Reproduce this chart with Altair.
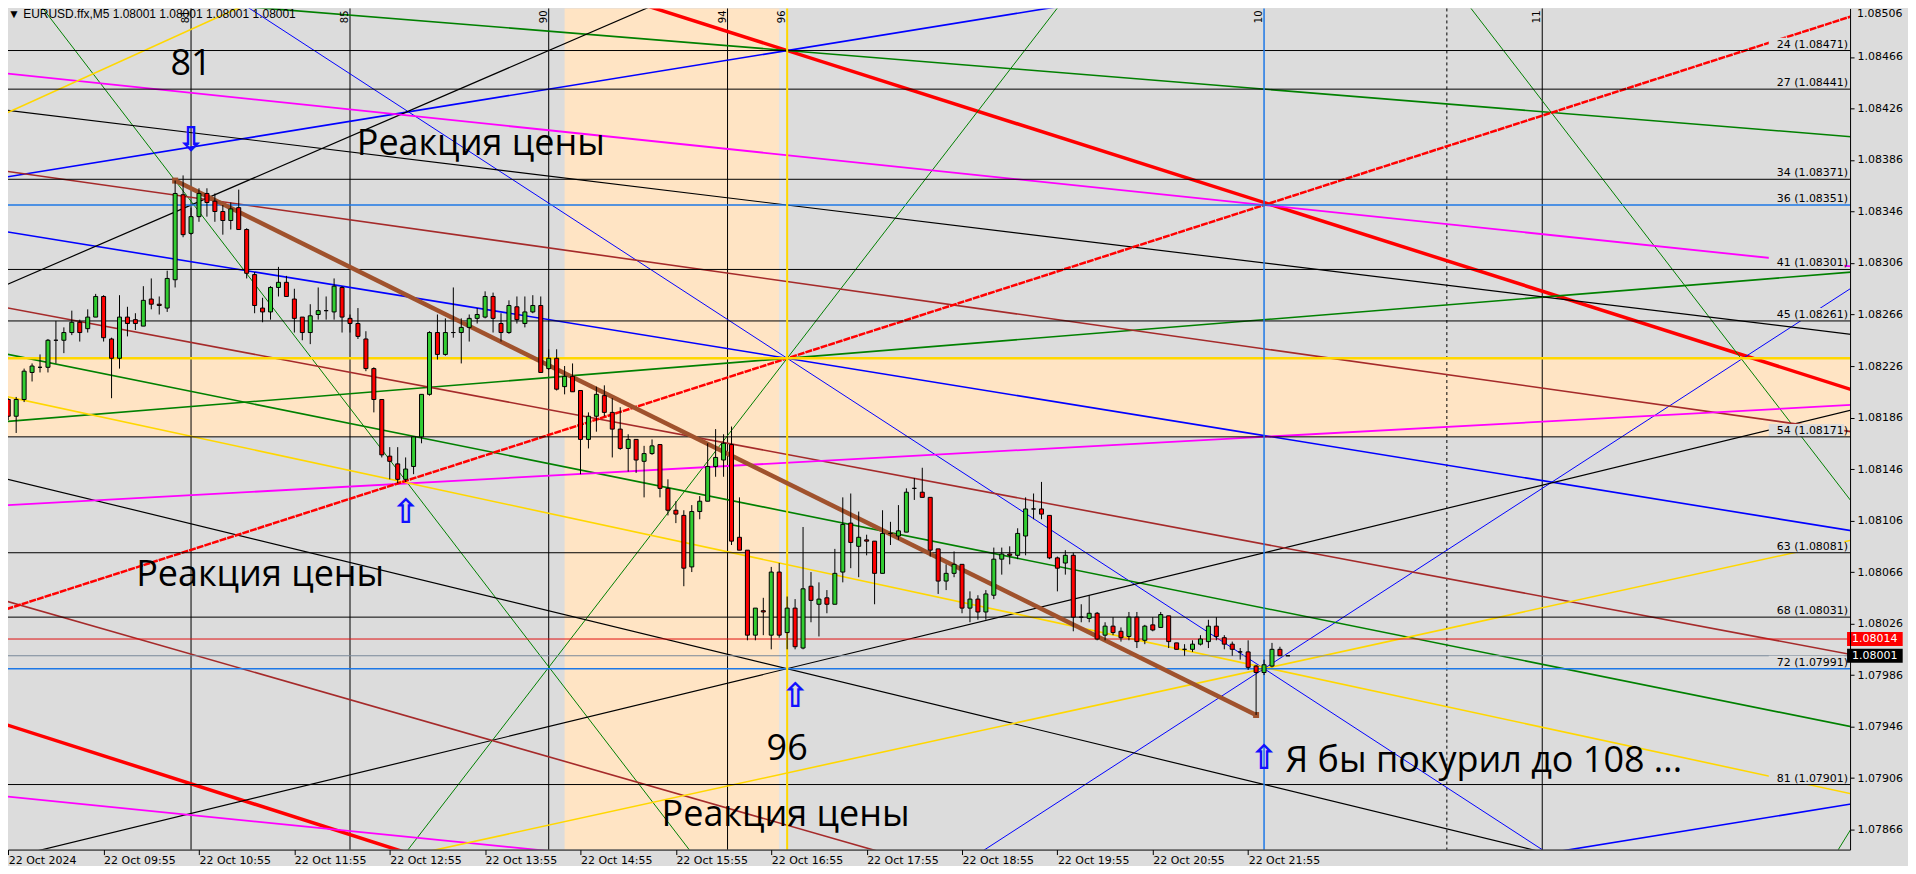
import altair as alt
import pandas as pd

# ---------------- values ----------------
# M5 candles, bar 0 = 22 Oct 08:55; prices in points (1 point = 0.00001)
opens = [108200,108187,108200,108221,108225,108225,108246,108246,108252,108260,
         108255,108264,108280,108247,108232,108264,108262,108257,108278,108274,
         108271,108293,108359,108329,108342,108360,108354,108346,108339,108349,
         108332,108297,108271,108268,108287,108291,108278,108264,108252,108266,
         108269,108268,108287,108263,108259,108247,108224,108200,108156,108150,
         108138,108148,108171,108204,108252,108235,108252,108252,108256,108263,
         108264,108280,108259,108252,108272,108259,108268,108273,108224,108232,
         108210,108218,108207,108169,108187,108203,108190,108177,108162,108169,
         108152,108158,108165,108131,108114,108110,108070,108113,108121,108148,
         108153,108165,108093,108083,108017,108036,108017,108066,108019,108038,
         108007,108055,108041,108046,108041,108066,108104,108086,108091,108090,
         108065,108096,108094,108097,108131,108128,108124,108084,108059,108065,
         108072,108038,108045,108035,108048,108076,108080,108079,108094,108115,
         108115,108110,108077,108073,108079,108031,108030,108034,108017,108024,
         108020,108016,108031,108013,108025,108023,108032,108011,108006,108006,
         108010,108012,108024,108015,108010,108004,108004,107993,107988,107993,
         108006,108001]
highs = [108201,108202,108224,108228,108235,108247,108261,108256,108269,108262,
         108270,108282,108281,108248,108281,108272,108267,108288,108294,108280,
         108300,108370,108374,108349,108364,108364,108360,108351,108353,108363,
         108333,108299,108279,108288,108303,108296,108286,108264,108274,108287,
         108280,108294,108288,108266,108271,108253,108225,108200,108163,108163,
         108155,108171,108204,108253,108266,108263,108287,108263,108266,108271,
         108284,108283,108267,108277,108280,108280,108281,108280,108239,108239,
         108226,108228,108207,108190,108210,108211,108201,108194,108173,108169,
         108164,108169,108165,108138,108121,108114,108118,108125,108166,108177,
         108173,108179,108124,108083,108038,108046,108070,108073,108047,108045,
         108101,108066,108058,108052,108084,108124,108127,108113,108095,108090,
         108114,108105,108118,108131,108139,108147,108124,108084,108072,108082,
         108072,108051,108048,108052,108085,108085,108086,108100,108124,108127,
         108136,108110,108078,108083,108081,108041,108048,108035,108027,108031,
         108023,108035,108035,108025,108031,108035,108032,108011,108010,108013,
         108017,108029,108031,108017,108012,108007,108013,107994,107998,108011,
         108008,108001]
lows = [108184,108174,108198,108214,108221,108221,108228,108236,108250,108245,
        108252,108264,108245,108201,108224,108249,108254,108257,108270,108266,
        108268,108287,108326,108328,108338,108342,108338,108328,108332,108332,
        108294,108267,108260,108262,108280,108280,108252,108246,108243,108262,
        108262,108262,108252,108252,108247,108222,108190,108155,108138,108135,
        108136,108142,108166,108203,108231,108234,108248,108228,108245,108259,
        108263,108252,108245,108251,108259,108256,108267,108221,108223,108207,
        108204,108206,108142,108162,108175,108187,108155,108161,108144,108143,
        108124,108157,108124,108110,108104,108055,108066,108107,108121,108140,
        108140,108087,108083,108013,108013,108017,108006,108015,108006,108006,
        108006,108027,108016,108034,108041,108058,108069,108062,108079,108041,
        108065,108087,108091,108097,108122,108124,108078,108049,108052,108062,
        108034,108027,108029,108029,108045,108064,108072,108076,108079,108107,
        108107,108076,108051,108064,108020,108027,108027,108013,108013,108017,
        108012,108013,108007,108010,108020,108023,108007,108006,108001,108004,
        108009,108007,108013,108006,108001,107998,107990,107955,107986,107992,
        108001,108001]
closes = [108187,108200,108222,108226,108225,108246,108246,108252,108260,108252,
          108264,108280,108248,108232,108264,108259,108259,108277,108274,108273,
          108294,108360,108328,108342,108360,108353,108346,108339,108348,108332,
          108298,108273,108268,108287,108291,108280,108263,108252,108265,108269,
          108269,108288,108264,108259,108249,108224,108200,108157,108152,108138,
          108146,108171,108204,108252,108235,108252,108252,108256,108263,108266,
          108280,108263,108252,108273,108262,108268,108273,108221,108232,108208,
          108218,108206,108169,108187,108204,108190,108177,108162,108169,108153,
          108158,108164,108131,108114,108111,108069,108113,108121,108148,108155,
          108166,108090,108083,108017,108038,108035,108066,108017,108038,108008,
          108053,108044,108045,108041,108065,108103,108089,108093,108090,108065,
          108096,108096,108098,108128,108131,108124,108083,108059,108065,108072,
          108038,108045,108035,108049,108076,108080,108079,108096,108115,108115,
          108111,108077,108069,108079,108031,108031,108034,108014,108024,108019,
          108015,108031,108012,108024,108021,108033,108012,108006,108006,108010,
          108014,108024,108016,108010,108006,108004,107992,107988,107994,108006,
          108001,108001]

time_tick_bars = [0, 12, 24, 36, 48, 60, 72, 84, 96, 108, 120, 132, 144, 156]
time_tick_labels = ["22 Oct 2024", "22 Oct 09:55", "22 Oct 10:55", "22 Oct 11:55",
                    "22 Oct 12:55", "22 Oct 13:55", "22 Oct 14:55", "22 Oct 15:55",
                    "22 Oct 16:55", "22 Oct 17:55", "22 Oct 18:55", "22 Oct 19:55",
                    "22 Oct 20:55", "22 Oct 21:55"]
price_ticks = [1.07866, 1.07906, 1.07946, 1.07986, 1.08026, 1.08066, 1.08106, 1.08146,
               1.08186, 1.08226, 1.08266, 1.08306, 1.08346, 1.08386, 1.08426, 1.08466]
top_price_label = "1.08506"

level_nums = [24, 27, 34, 36, 41, 45, 54, 63, 68, 72, 81]
level_prices = [1.08471, 1.08441, 1.08371, 1.08351, 1.08301, 1.08261, 1.08171,
                1.08081, 1.08031, 1.07991, 1.07901]
level_is_blue = [False, False, False, True, False, False, False, False, False, True, False]

ask_price = 1.08014
bid_price = 1.08001
band_h_prices = [1.08232, 1.08171]      # orange horizontal zone
band_v_bars = [70, 97]                  # orange vertical zone
stripe_v_bars = [97, 98]
yellow_level = 1.08232

vline_bars = [23, 43, 68, 90.5, 193]
vline_labels = ["81", "85", "90", "94", "11"]
yellow_vline_bar = 98
blue_vline_bar = 158
dashed_vline_bar = 181
vlabel_extra_bars = [98, 158]
vlabel_extra_text = ["96", "10"]

# trend lines: anchor points (bar, price)
line_b1 = [98, 98, 0, 98, 158, 98, 98, 200, 21, 98, 218, 230.2, 98, 98, 0,
           98, 23, 98, 98, 0, 0, 0, 0, 0, 30, 0, 0, 158]
line_p1 = [1.08232, 1.08471, 1.07947, 1.08232, 1.07991, 1.08471, 1.08232, 1.07854,
           1.08370, 1.08232, 1.08232, 1.07850, 1.08471, 1.08232, 1.08235,
           1.08351, 1.08351, 1.07991, 1.07991, 1.08377, 1.08271, 1.08043,
           1.08453, 1.08118, 1.07873, 1.08423, 1.08202, 1.07991]
line_b2 = [158, 158, 40, 158, 218, 158, 158, 231, 51, 128, 188, 231, 158, 158, 231,
           158, 83, 158, 158, 222.7, 231, 108.4, 158, 158, 67, 30, 158, 218]
line_p2 = [1.08351, 1.08353, 1.07868, 1.07991, 1.08231, 1.08531, 1.08172, 1.07885,
           1.08129, 1.08472, 1.08472, 1.07858, 1.08441, 1.08262, 1.07947,
           1.08306, 1.08511, 1.08081, 1.07901, 1.08183, 1.08003, 1.07851,
           1.08351, 1.08171, 1.07850, 1.08507, 1.07992, 1.08072]
line_kind = ["reddot", "redthick", "redthick", "blue", "blue", "blue2", "blue2", "blue2",
             "green", "green", "green", "green", "green2", "green2", "green2",
             "black", "black", "black", "black", "brown", "brown", "brown",
             "magenta", "magenta", "magenta", "yellow", "yellow", "yellow"]

trend_bars = [21, 157]
trend_prices = [1.08370, 1.07955]

ann_text = ["81", "96", "Реакция цены", "Реакция цены", "Реакция цены",
            "Я бы покурил до 108 ..."]
ann_bar = [23.0, 98.0, 43.85, 16.1, 82.2, 160.7]
ann_price = [1.08452, 1.07920, 1.08390, 1.08055, 1.07869, 1.07911]
arrow_text = ["⇩", "⇧", "⇧", "⇧"]
arrow_bar = [23, 50, 99, 158]
arrow_price = [1.08401, 1.08112, 1.07969, 1.07921]

header_text = "▼ EURUSD.ffx,M5  1.08001 1.08001 1.08001 1.08001"

# ---------------- styles / layout ----------------
PT = 1e-5
X_DOM = [0.6, 231.1]
Y_DOM = [1.078505, 1.0850367]
W, H = 1844, 842
BG = "#DCDCDC"
ORANGE = "#FFE4C4"
kind_color = {"reddot": "#FF0000", "redthick": "#FF0000", "blue": "#0000FF", "blue2": "#0000FF",
              "green": "#008000", "green2": "#008000", "black": "#000000", "brown": "#A52A2A",
              "magenta": "#FF00FF", "yellow": "#FFD700"}
kind_width = {"reddot": 2.5, "redthick": 3.5, "blue": 1.0, "blue2": 1.6, "green": 1.0,
              "green2": 1.6, "black": 1.2, "brown": 1.6, "magenta": 1.8, "yellow": 1.6}

xs = alt.Scale(domain=X_DOM, nice=False, zero=False)
ys = alt.Scale(domain=Y_DOM, nice=False, zero=False)

# candles
cdf = pd.DataFrame({
    "bar": list(range(len(opens))),
    "open": [v * PT for v in opens],
    "high": [v * PT for v in highs],
    "low": [v * PT for v in lows],
    "close": [v * PT for v in closes],
})
cdf["dir"] = ["up" if c >= o else "down" for o, c in zip(cdf["open"], cdf["close"])]

label_expr = "[" + ",".join("'" + t + "'" for t in time_tick_labels) + "][round(datum.value/12)]"

x_axis = alt.Axis(values=time_tick_bars, labelExpr=label_expr, labelAlign="left",
                  labelBaseline="top", labelPadding=0, tickSize=5, tickColor="black",
                  domainColor="black", labelColor="black", labelFont="DejaVu Sans",
                  labelFontSize=11, grid=False, title=None, labelFlush=False,
                  labelOverlap=False, labelBound=False, zindex=2)
y_axis = alt.Axis(orient="right", values=price_ticks, format=".5f", tickSize=4,
                  tickColor="black", domainColor="black", labelColor="black",
                  labelFont="DejaVu Sans", labelFontSize=11, labelPadding=3,
                  grid=False, title=None, labelOverlap=False, labelFlush=False,
                  labelBound=False, zindex=2)


def X(field):
    return alt.X(field, scale=xs)


def Y(field):
    return alt.Y(field, scale=ys)


# full background (also paints outside the plot area)
bgrect = alt.Chart(pd.DataFrame({"b0": [-60], "b1": [300], "p0": [1.07], "p1": [1.09]})).mark_rect(
    color=BG, clip=False).encode(x=X("b0:Q"), x2="b1:Q", y=Y("p0:Q"), y2="p1:Q")

wicks = alt.Chart(cdf).mark_rule(color="black", strokeWidth=1, clip=True).encode(
    x=alt.X("bar:Q", scale=xs, axis=x_axis),
    y=alt.Y("low:Q", scale=ys, axis=y_axis),
    y2="high:Q")
bodies = alt.Chart(cdf).mark_bar(size=4, stroke="black", strokeWidth=1, orient="vertical",
                                 clip=True).encode(
    x=X("bar:Q"), y=Y("open:Q"), y2="close:Q",
    color=alt.Color("dir:N", scale=alt.Scale(domain=["up", "down"], range=["#32CD32", "#FF0000"]),
                    legend=None))

# zones
hband = alt.Chart(pd.DataFrame({"b0": [-5], "b1": [240], "p0": [band_h_prices[0]],
                                "p1": [band_h_prices[1]]})).mark_rect(color=ORANGE, clip=True).encode(
    x=X("b0:Q"), x2="b1:Q", y=Y("p0:Q"), y2="p1:Q")
vband = alt.Chart(pd.DataFrame({"b0": [band_v_bars[0]], "b1": [band_v_bars[1]],
                                "p0": [1.07], "p1": [1.09]})).mark_rect(color=ORANGE, clip=True).encode(
    x=X("b0:Q"), x2="b1:Q", y=Y("p0:Q"), y2="p1:Q")
vstripe = alt.Chart(pd.DataFrame({"b0": [stripe_v_bars[0]], "b1": [stripe_v_bars[1]],
                                  "p0": [1.07], "p1": [1.09]})).mark_rect(color="#E6E6E6", clip=True).encode(
    x=X("b0:Q"), x2="b1:Q", y=Y("p0:Q"), y2="p1:Q")

# vertical lines
vl = alt.Chart(pd.DataFrame({"bar": vline_bars})).mark_rule(color="black", strokeWidth=1).encode(
    x=X("bar:Q"))
vl_dash = alt.Chart(pd.DataFrame({"bar": [dashed_vline_bar]})).mark_rule(
    color="black", strokeWidth=1, strokeDash=[3, 3]).encode(x=X("bar:Q"))
vl_yellow = alt.Chart(pd.DataFrame({"bar": [yellow_vline_bar]})).mark_rule(
    color="#FFD700", strokeWidth=2).encode(x=X("bar:Q"))
vl_blue = alt.Chart(pd.DataFrame({"bar": [blue_vline_bar]})).mark_rule(
    color="#1E78E6", strokeWidth=1.5).encode(x=X("bar:Q"))
vlab = alt.Chart(pd.DataFrame({"bar": vline_bars + vlabel_extra_bars,
                               "t": vline_labels + vlabel_extra_text,
                               "p": [Y_DOM[1]] * (len(vline_bars) + len(vlabel_extra_bars))})).mark_text(
    angle=270, align="right", baseline="bottom", dx=-2, dy=0, font="DejaVu Sans", fontSize=10,
    color="black").encode(x=X("bar:Q"), y=Y("p:Q"), text="t:N")

# diagonal lines (extended across the chart)
rows = []
for b1, p1, b2, p2, k in zip(line_b1, line_p1, line_b2, line_p2, line_kind):
    s = (p2 - p1) / (b2 - b1)
    lo, hi = -5.0, 240.0
    rows.append({"xa": lo, "ya": p1 + s * (lo - b1), "xb": hi, "yb": p1 + s * (hi - b1),
                 "c": kind_color[k], "w": kind_width[k], "k": k})
ldf = pd.DataFrame(rows)


def line_layer(df, dash=None):
    kw = dict(clip=True)
    if dash:
        kw["strokeDash"] = dash
    return alt.Chart(df).mark_rule(**kw).encode(
        x=X("xa:Q"), x2="xb:Q", y=Y("ya:Q"), y2="yb:Q",
        color=alt.Color("c:N", scale=None),
        strokeWidth=alt.StrokeWidth("w:Q", scale=None))


diag = line_layer(ldf[ldf["k"] != "reddot"])
diag_dot = line_layer(ldf[ldf["k"] == "reddot"], dash=[7, 1])

trend = alt.Chart(pd.DataFrame({"bar": trend_bars, "p": trend_prices})).mark_line(
    color="#A0522D", strokeWidth=4.5, clip=True).encode(x=X("bar:Q"), y=Y("p:Q"))
trend_ends = alt.Chart(pd.DataFrame({"bar": trend_bars, "p": trend_prices})).mark_square(
    color="#A0522D", size=36, opacity=1).encode(x=X("bar:Q"), y=Y("p:Q"))

# horizontal price levels
ask_line = alt.Chart(pd.DataFrame({"p": [ask_price]})).mark_rule(color="#E01010", strokeWidth=1).encode(
    y=Y("p:Q"))
bid_line = alt.Chart(pd.DataFrame({"p": [bid_price]})).mark_rule(color="#778899", strokeWidth=1).encode(
    y=Y("p:Q"))
yellow_line = alt.Chart(pd.DataFrame({"p": [yellow_level]})).mark_rule(color="#FFD700", strokeWidth=2.5).encode(
    y=Y("p:Q"))

lvl = pd.DataFrame({"n": level_nums, "p": level_prices, "blue": level_is_blue})
lvl["t"] = [f"{n} ({p:.5f})" for n, p in zip(level_nums, level_prices)]
lvl["top"] = lvl["p"] + 0.0001
lvl["b0"] = 221.5
lvl["b1"] = 231.0
lvl_boxes = alt.Chart(lvl).mark_rect(color=BG).encode(
    x=X("b0:Q"), x2="b1:Q", y=Y("p:Q"), y2="top:Q")
lvl_black = alt.Chart(lvl[~lvl["blue"]]).mark_rule(color="black", strokeWidth=1).encode(y=Y("p:Q"))
lvl_blue = alt.Chart(lvl[lvl["blue"]]).mark_rule(color="#1E78E6", strokeWidth=1.5).encode(y=Y("p:Q"))
lvl_text = alt.Chart(lvl).mark_text(align="right", baseline="alphabetic", dy=-3,
                                    font="DejaVu Sans", fontSize=11, color="black").encode(
    x=alt.value(W - 2), y=Y("p:Q"), text="t:N")

# top price label that sits at the very top edge
top_lab = alt.Chart(pd.DataFrame({"t": [top_price_label]})).mark_text(
    align="left", baseline="top", font="DejaVu Sans", fontSize=11, color="black").encode(
    x=alt.value(W + 7), y=alt.value(0), text="t:N")

# current price tags on the axis
tags = pd.DataFrame({"p": [ask_price, bid_price], "fill": ["#FF0000", "#000000"]})
tags["t"] = [f"{p:.5f}" for p in tags["p"]]
tags["lo"] = tags["p"] - 0.000054
tags["hi"] = tags["p"] + 0.000054
tags["b0"] = 231.35
tags["b1"] = 238.35
tag_box = alt.Chart(tags).mark_rect().encode(
    x=X("b0:Q"), x2="b1:Q", y=Y("lo:Q"), y2="hi:Q", color=alt.Color("fill:N", scale=None))
tag_text = alt.Chart(tags).mark_text(align="left", baseline="middle", dx=5, font="DejaVu Sans",
                                     fontSize=11, color="white").encode(
    x=X("b0:Q"), y=Y("p:Q"), text="t:N")

# annotations
adf = pd.DataFrame({"bar": ann_bar, "p": ann_price, "t": ann_text})
ann_center = alt.Chart(adf.iloc[:2]).mark_text(align="center", baseline="alphabetic", font="Open Sans",
                                               fontSize=36, color="black").encode(
    x=X("bar:Q"), y=Y("p:Q"), text="t:N")
ann_left = alt.Chart(adf.iloc[2:]).mark_text(align="left", baseline="alphabetic", font="Open Sans",
                                             fontSize=36, color="black").encode(
    x=X("bar:Q"), y=Y("p:Q"), text="t:N")
arrows = alt.Chart(pd.DataFrame({"bar": arrow_bar, "p": arrow_price, "t": arrow_text})).mark_text(
    align="center", baseline="middle", font="DejaVu Sans", fontSize=34, fontWeight="bold",
    color="#1010FF").encode(x=X("bar:Q"), y=Y("p:Q"), text="t:N")

header = alt.Chart(pd.DataFrame({"t": [header_text]})).mark_text(
    align="left", baseline="top", font="Liberation Sans", fontSize=12, color="black").encode(
    x=alt.value(0), y=alt.value(1), text="t:N")

chart = alt.layer(
    bgrect,
    hband, vband, vstripe,
    vl, vl_dash,
    diag, diag_dot,
    ask_line, bid_line,
    lvl_boxes, lvl_black, lvl_blue, yellow_line,
    vl_yellow, vl_blue,
    trend, trend_ends,
    wicks, bodies,
    lvl_text, vlab, top_lab,
    tag_box, tag_text,
    ann_center, ann_left, arrows, header,
).properties(
    width=W, height=H,
    autosize=alt.AutoSizeParams(type="none"),
    padding={"left": 0, "top": 0, "right": 58, "bottom": 16},
    background=BG,
).configure_view(stroke="black", strokeWidth=1, fill=BG)

chart.save("out.html", embed_options={"renderer": "svg", "actions": False})
